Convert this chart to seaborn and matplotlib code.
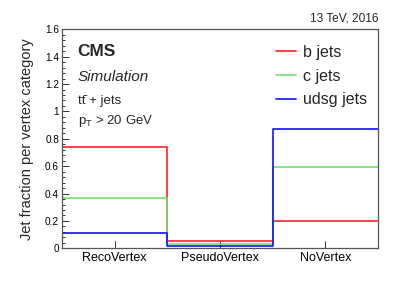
import matplotlib
matplotlib.use("Agg")
import matplotlib.pyplot as plt
from matplotlib.lines import Line2D
from matplotlib.ticker import MultipleLocator, FuncFormatter
import seaborn as sns
import pandas as pd

categories = ["RecoVertex", "PseudoVertex", "NoVertex"]
b_jets = [0.743, 0.052, 0.202]
c_jets = [0.370, 0.030, 0.597]
udsg_jets = [0.112, 0.015, 0.872]
flavours = ["b jets", "c jets", "udsg jets"]
colors = ["#ff2020", "#6ee06e", "#1010ff"]

sns.set_theme(style="white")
plt.rcParams["font.family"] = ["Liberation Sans", "DejaVu Sans"]
plt.rcParams["mathtext.fontset"] = "custom"
plt.rcParams["mathtext.rm"] = "Liberation Sans"
plt.rcParams["mathtext.it"] = "Liberation Sans:italic"
plt.rcParams["mathtext.bf"] = "Liberation Sans:bold"

rows = []
for fl, vals in zip(flavours, [b_jets, c_jets, udsg_jets]):
    for i, v in enumerate(vals):
        rows.append({"bin": i + 0.5, "frac": v, "flavour": fl})
df = pd.DataFrame(rows)

fig = plt.figure(figsize=(4.07, 2.93), dpi=100)
ax = fig.add_axes([0.152, 0.1525, 0.777, 0.7475])

edges = [0, 1, 2, 3]
for fl, col in zip(flavours, colors):
    sub = df[df["flavour"] == fl]
    sns.histplot(data=sub, x="bin", weights="frac", bins=edges, element="step",
                 fill=False, color=col, linewidth=1.2, ax=ax)

ax.set_xlim(0, 3)
ax.set_ylim(0, 1.6)
ax.set_xticks([0.5, 1.5, 2.5])
ax.set_xticklabels(categories, fontsize=9)
ax.set_xlabel("")
ax.set_ylabel("Jet fraction per vertex category", fontsize=10.5, labelpad=8)
ax.yaxis.set_major_locator(MultipleLocator(0.2))
ax.yaxis.set_minor_locator(MultipleLocator(0.04))
ax.yaxis.set_major_formatter(FuncFormatter(lambda v, p: f"{v:g}"))
ax.tick_params(axis="y", which="major", direction="in", length=5, width=0.7,
               colors="#333333", labelsize=7.2, labelcolor="black", left=True, pad=2)
ax.tick_params(axis="y", which="minor", direction="in", length=2.5, width=0.7,
               colors="#333333", left=True)
ax.tick_params(axis="x", which="major", direction="in", length=5, width=0.7,
               colors="#333333", labelcolor="black", bottom=True, pad=3)
for s in ax.spines.values():
    s.set_color("#555555")
    s.set_linewidth(0.9)

fig.text(0.929, 0.915, "13 TeV, 2016", ha="right", va="bottom", fontsize=8.6)
ax.text(0.05, 0.935, "CMS", transform=ax.transAxes, fontsize=12.4,
        fontweight="bold", va="top")
ax.text(0.05, 0.815, "Simulation", transform=ax.transAxes, fontsize=11,
        style="italic", va="top")
ax.text(0.05, 0.70, "tt\u0304 + jets", transform=ax.transAxes,
        fontsize=9.5, va="top")
ax.text(0.05, 0.62, r"p$_{\mathrm{T}}$ > 20 GeV", transform=ax.transAxes,
        fontsize=9.5, va="top")

handles = [Line2D([0], [0], color=c, lw=1.2) for c in colors]
leg = ax.legend(handles, flavours, loc="upper right", bbox_to_anchor=(1.0, 0.98),
                frameon=False, fontsize=11.5, handlelength=1.3, handletextpad=0.4,
                labelspacing=0.55, borderaxespad=0.3)

fig.savefig("out.png", dpi=100)
